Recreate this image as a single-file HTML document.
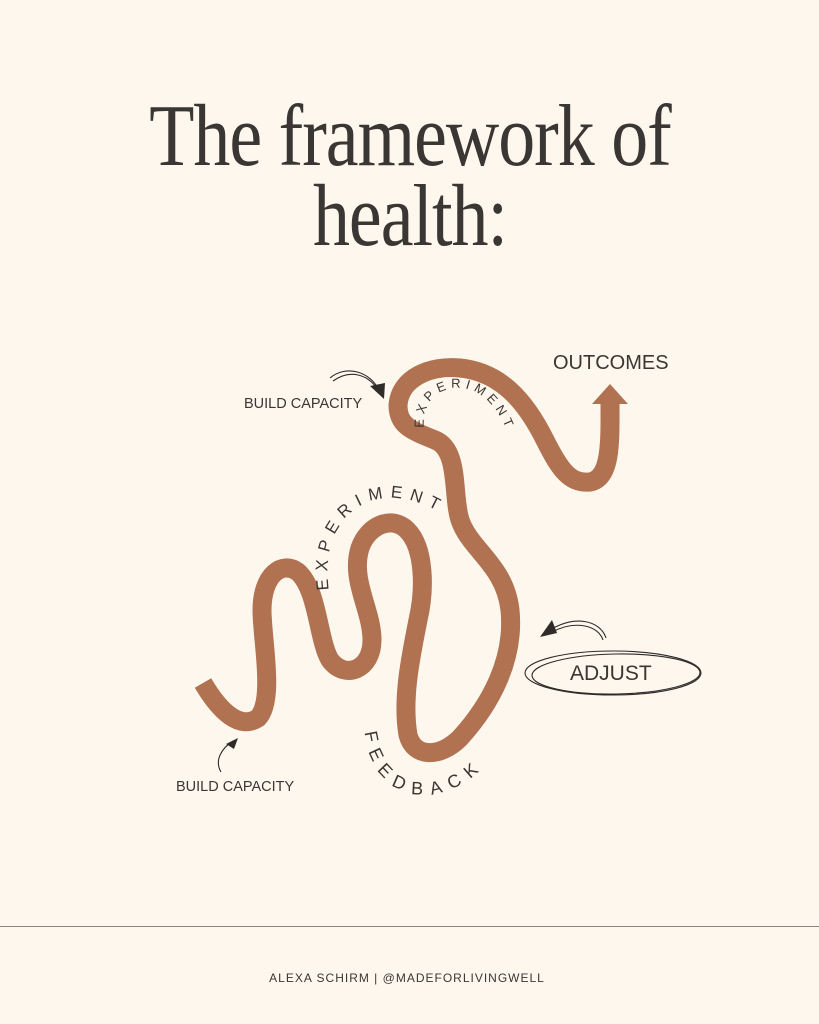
<!DOCTYPE html>
<html><head><meta charset="utf-8"><style>
html,body{margin:0;padding:0;background:#fdf7ee;}
svg{display:block}
</style></head><body>
<svg width="819" height="1024" viewBox="0 0 819 1024" xmlns="http://www.w3.org/2000/svg">
<rect width="819" height="1024" fill="#fdf7ee"/>
<g font-family="Liberation Serif, serif" fill="#3a3633" text-anchor="middle">
<text x="410" y="165" font-size="88" transform="translate(410 0) scale(0.84 1) translate(-410 0)" letter-spacing="-1.2">The framework of</text>
<text x="410" y="245" font-size="88" transform="translate(410 0) scale(0.84 1) translate(-410 0)" letter-spacing="-1.2">health:</text>
</g>
<path d="M203,683 C220,712 240,730 258,718 C275,700 262,640 262,610 C262,575 282,560 298,572 C318,590 318,640 330,660 C345,680 372,670 372,640 C372,610 350,580 360,548 C368,525 392,515 407,530 C425,548 425,590 418,620 C410,660 402,700 408,735 C414,758 440,758 460,738 C490,705 515,660 510,610 C505,565 470,550 460,520 C452,495 460,450 435,440 C410,430 398,425 398,405 C400,378 430,365 460,368 C500,372 525,400 545,440 C560,470 570,484 590,482 C612,478 610,440 610,398" fill="none" stroke="#b07250" stroke-width="19" stroke-linecap="butt" stroke-linejoin="round"/>
<polygon points="610,384 592,404 628,404" fill="#b07250"/>
<defs>
<path id="p1" d="M329,590 C318,520 370,470 445,515"/>
<path id="p2" d="M424,428 C418,380 492,362 512,448"/>
<path id="p3" d="M365,732 C372,805 445,815 492,758"/>
</defs>
<g font-family="Liberation Sans, sans-serif" fill="#3a3633">
<text font-size="17" letter-spacing="7.2"><textPath href="#p1">EXPERIMENT</textPath></text>
<text font-size="13" letter-spacing="4.6"><textPath href="#p2">EXPERIMENT</textPath></text>
<text font-size="18" letter-spacing="8.5"><textPath href="#p3">FEEDBACK</textPath></text>
<text x="553" y="369" font-size="20">OUTCOMES</text>
<text x="244" y="408" font-size="14.5">BUILD CAPACITY</text>
<text x="176" y="791" font-size="14.5">BUILD CAPACITY</text>
<text x="570" y="680" font-size="21">ADJUST</text>
<text x="407" y="982" font-size="12" letter-spacing="1" text-anchor="middle">ALEXA SCHIRM | @MADEFORLIVINGWELL</text>
</g>
<g fill="none" stroke="#2e2b29" stroke-width="1.1">
<path d="M330,378 C345,365 370,370 380,392"/>
<path d="M333,381 C350,369 368,374 378,390"/>
<path d="M221,772 C214,760 222,748 233,741"/>
<path d="M606,638 C600,620 575,615 550,630"/>
<path d="M603,640 C598,625 575,620 552,632"/>
<ellipse cx="613" cy="673" rx="88" ry="22"/>
<ellipse cx="616" cy="674" rx="84" ry="20" transform="rotate(-1 616 674)"/>
</g>
<g fill="#2e2b29">
<polygon points="384,399 370,386 385,383"/>
<polygon points="238,738 226,744 234,749"/>
<polygon points="540,637 552,620 557,633"/>
</g>
<rect x="0" y="926" width="819" height="1" fill="#8a8580"/>
</svg>
</body></html>
